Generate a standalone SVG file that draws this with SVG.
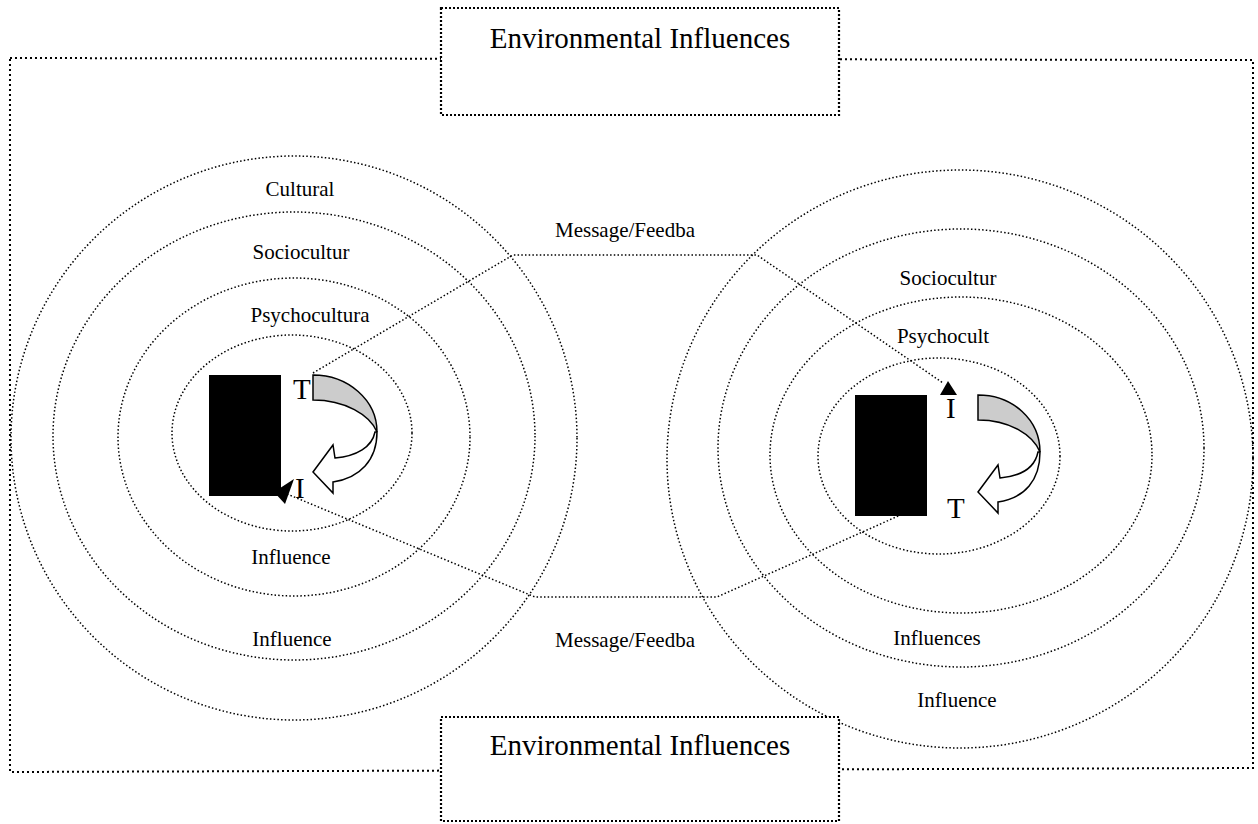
<svg xmlns="http://www.w3.org/2000/svg" width="1258" height="824" viewBox="0 0 1258 824">
<style>
.frame{fill:none;stroke:#000;stroke-width:2;stroke-dasharray:2 3}
.box{fill:#fff;stroke:#000;stroke-width:2.2;stroke-dasharray:2 2}
.ring{fill:none;stroke:#000;stroke-width:1.5;stroke-dasharray:1.5 2.2}
.conn{fill:none;stroke:#000;stroke-width:1.5;stroke-dasharray:1.5 2.2}
.lbl{font-family:"Liberation Serif","Times New Roman",serif;font-size:21px;fill:#000;text-anchor:middle}
.big{font-family:"Liberation Serif","Times New Roman",serif;font-size:29px;fill:#000;text-anchor:middle}
.ti{font-family:"Liberation Serif","Times New Roman",serif;font-size:29px;fill:#000}
.band{fill:#cccccc;stroke:#000;stroke-width:1.5}
.shaft{fill:#fff;stroke:#000;stroke-width:1.5}
</style>
<rect width="1258" height="824" fill="#fff"/>
<path class="frame" d="M10,58 L1253,60 L1253,768 L10,772 Z"/>
<g id="left-rings">
<ellipse class="ring" cx="294" cy="438" rx="283" ry="282"/>
<ellipse class="ring" cx="294" cy="436" rx="241" ry="224"/>
<ellipse class="ring" cx="294" cy="437" rx="176" ry="159"/>
<ellipse class="ring" cx="292" cy="433" rx="120" ry="98"/>
</g>
<g id="right-rings">
<ellipse class="ring" cx="960" cy="459" rx="293" ry="289"/>
<ellipse class="ring" cx="961" cy="448" rx="243" ry="219"/>
<ellipse class="ring" cx="961" cy="455" rx="191" ry="158"/>
<ellipse class="ring" cx="939" cy="456" rx="121" ry="98"/>
</g>
<g id="env-top">
<rect class="box" x="441" y="8" width="398" height="107"/>
<text class="big" x="640" y="48">Environmental Influences</text>
</g>
<g id="env-bottom">
<rect class="box" x="441" y="717" width="398" height="104"/>
<text class="big" x="640" y="755">Environmental Influences</text>
</g>
<g id="connectors">
<path class="conn" d="M313,373 L513,255 L757,255 L943,383"/>
<polygon points="948,381 940,395 957,395" fill="#000"/>
<path class="conn" d="M287,494 L535,597 L717,597 L905,513"/>
<polygon points="274,492 294,479 285,504" fill="#000"/>
</g>
<g id="left-person">
<rect x="209" y="375" width="72" height="121" fill="#000"/>
<path class="band" d="M313,375 C348,375 377,400 377,432 C370,415 345,400 313,400 Z"/>
<path class="shaft" d="M375,432 C372,447 357,456 335,458 L333,445 L313,472 L333,493 L333,482 C360,478 377,460 377,432 Z"/>
<text class="ti" x="293" y="399">T</text>
<text class="ti" x="295" y="498">I</text>
</g>
<g id="right-person">
<rect x="855" y="395" width="72" height="121" fill="#000"/>
<g transform="translate(665,20)">
<path class="band" d="M313,375 C348,375 375,400 375,432 C368,415 345,400 313,400 Z"/>
<path class="shaft" d="M373,432 C370,447 357,456 335,458 L333,445 L313,472 L333,493 L333,482 C360,478 375,460 375,432 Z"/>
</g>
<text class="ti" x="946" y="418">I</text>
<text class="ti" x="947" y="518">T</text>
</g>
<g id="labels">
<text class="lbl" x="300" y="196">Cultural</text>
<text class="lbl" x="301" y="259">Sociocultur</text>
<text class="lbl" x="310" y="322">Psychocultura</text>
<text class="lbl" x="291" y="564">Influence</text>
<text class="lbl" x="292" y="646">Influence</text>
<text class="lbl" x="625" y="237">Message/Feedba</text>
<text class="lbl" x="625" y="647">Message/Feedba</text>
<text class="lbl" x="948" y="285">Sociocultur</text>
<text class="lbl" x="943" y="343">Psychocult</text>
<text class="lbl" x="937" y="645">Influences</text>
<text class="lbl" x="957" y="707">Influence</text>
</g>
</svg>
